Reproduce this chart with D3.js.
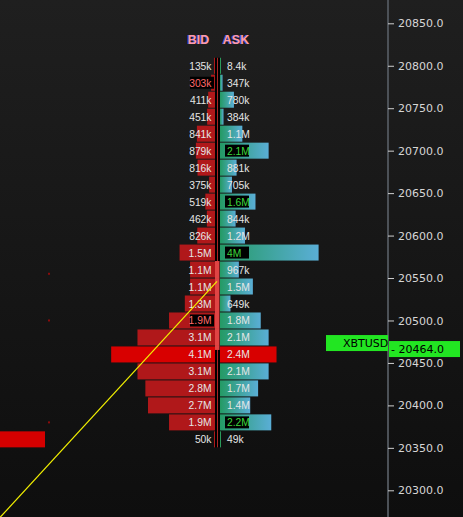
<!DOCTYPE html>
<html><head><meta charset="utf-8">
<script src="https://cdn.jsdelivr.net/npm/d3@7"></script>
<style>html,body{margin:0;padding:0;background:#141414;overflow:hidden}</style>
</head><body>
<svg id="c" width="463" height="517"></svg>
<script>
// ---- data ----
const prices = [20800,20780,20760,20740,20720,20700,20680,20660,20640,20620,20600,20580,20560,20540,20520,20500,20480,20460,20440,20420,20400,20380,20360];
const bidValues = [135e3,303e3,411e3,451e3,841e3,879e3,816e3,375e3,519e3,462e3,826e3,1.5e6,1.1e6,1.1e6,1.3e6,1.9e6,3.1e6,4.1e6,3.1e6,2.8e6,2.7e6,1.9e6,50e3];
const askValues = [8.4e3,347e3,780e3,384e3,1.1e6,2.1e6,881e3,705e3,1.6e6,844e3,1.2e6,4.0e6,967e3,1.5e6,649e3,1.8e6,2.1e6,2.4e6,2.1e6,1.7e6,1.4e6,2.2e6,49e3];
const bidLabels = ["135k","303k","411k","451k","841k","879k","816k","375k","519k","462k","826k","1.5M","1.1M","1.1M","1.3M","1.9M","3.1M","4.1M","3.1M","2.8M","2.7M","1.9M","50k"];
const askLabels = ["8.4k","347k","780k","384k","1.1M","2.1M","881k","705k","1.6M","844k","1.2M","4M","967k","1.5M","649k","1.8M","2.1M","2.4M","2.1M","1.7M","1.4M","2.2M","49k"];
const bidBoxed = [20780,20500];
const askBoxed = [20700,20640,20580,20380];
const highlightPrice = 20460;
const deltaPrices = [20560,20540,20520,20500,20480];
const tickValues = [20300,20350,20400,20450,20500,20550,20600,20650,20700,20750,20800,20850];
const lastPrice = 20464;
const symbol = "XBTUSD";
const largeOrderPrice = 20360;
const dotPrices = [20555,20500,20380];
const trendFrom = 20268, trendTo = 20546;

// ---- layout ----
const W = 463, H = 517;
const svg = d3.select("#c");
const defs = svg.append("defs");
const bg = defs.append("linearGradient").attr("id","bg").attr("x1",0).attr("y1",0).attr("x2",0).attr("y2",1);
bg.append("stop").attr("offset","0%").attr("stop-color","#1f1f1f");
bg.append("stop").attr("offset","100%").attr("stop-color","#0e0e0e");
const ag = defs.append("linearGradient").attr("id","ask").attr("x1",0).attr("y1",0).attr("x2",1).attr("y2",0);
ag.append("stop").attr("offset","0%").attr("stop-color","#249a64");
ag.append("stop").attr("offset","100%").attr("stop-color","#5aaed6");

svg.append("rect").attr("width",W).attr("height",H).attr("fill","url(#bg)");

const y = d3.scaleLinear().domain([20300,20850]).range([490.3,23.3]);
const rowH = 16;
const bidEdge = 215, askEdge = 220;
const xBid = d3.scaleLinear().domain([0,1e6]).range([219,219-26.3]);
const xAsk = d3.scaleLinear().domain([0,1e6]).range([213.4,213.4+26.3]);

const rows = prices.map((p,i)=>({p,bid:bidValues[i],ask:askValues[i],bl:bidLabels[i],al:askLabels[i]}));

// left decorations
svg.append("rect").attr("x",0).attr("y",y(largeOrderPrice)-8).attr("width",45).attr("height",rowH).attr("fill","#d40000");
svg.selectAll(".dot").data(dotPrices).join("rect").attr("x",48).attr("y",d=>y(d)-1).attr("width",2).attr("height",2).attr("fill","#8a0c0c");

// center column background
const topY = y(prices[0])-8, botY = y(prices[prices.length-1])+8;
svg.append("rect").attr("x",bidEdge).attr("y",topY).attr("width",askEdge-bidEdge).attr("height",botY-topY).attr("fill","#000");

// bid bars
svg.selectAll(".bid").data(rows).join("rect")
  .attr("x",d=>Math.min(bidEdge-1, xBid(d.bid)))
  .attr("y",d=>y(d.p)-8).attr("height",rowH)
  .attr("width",d=>Math.max(1, bidEdge-xBid(d.bid)))
  .attr("fill",d=>d.p===highlightPrice?"#d80000":"#b0181a");
// ask bars
svg.selectAll(".ask").data(rows).join("rect")
  .attr("x",askEdge)
  .attr("y",d=>y(d.p)-8).attr("height",rowH)
  .attr("width",d=>Math.max(1, xAsk(d.ask)-askEdge))
  .attr("fill",d=>d.p===highlightPrice?"#d80000":(d.ask<50e3?"#2a9a5a":"url(#ask)"));

// center strip
svg.append("line").attr("x1",217.5).attr("x2",217.5).attr("y1",topY).attr("y2",botY).attr("stroke","#a82424").attr("stroke-width",1);
svg.selectAll(".delta").data(deltaPrices).join("rect")
  .attr("x",bidEdge).attr("y",d=>y(d)-8.5).attr("width",4.5).attr("height",17).attr("fill","#e04444");
svg.append("rect").attr("x",bidEdge).attr("y",y(highlightPrice)-8.5).attr("width",4.5).attr("height",4).attr("fill","#e04444");

// label boxes
svg.selectAll(".bb").data(bidBoxed).join("rect").attr("x",190).attr("y",d=>y(d)-6).attr("width",24).attr("height",12).attr("fill","#000");
svg.selectAll(".ab").data(askBoxed).join("rect").attr("x",225).attr("y",d=>y(d)-6).attr("width",24).attr("height",12).attr("fill","#000");

const font = "'Liberation Sans', Arial, sans-serif";
svg.selectAll(".bl").data(rows).join("text")
  .attr("x",211.5).attr("y",d=>y(d.p)+4).attr("text-anchor","end")
  .attr("font-family",font).attr("font-size",10.3)
  .attr("fill",d=>bidBoxed.includes(d.p)?"#ff6a6a":"#e6e6e6").text(d=>d.bl);
svg.selectAll(".al").data(rows).join("text")
  .attr("x",227).attr("y",d=>y(d.p)+4).attr("text-anchor","start")
  .attr("font-family",font).attr("font-size",10.3)
  .attr("fill",d=>askBoxed.includes(d.p)?"#3cd83c":"#e6e6e6").text(d=>d.al);

// headers
[["BID",198.5],["ASK",236]].forEach(([t,x])=>{
  svg.append("text").attr("x",x-0.8).attr("y",43.5).attr("text-anchor","middle").attr("font-family",font).attr("font-weight","bold").attr("font-size",12.5).attr("fill","#4a5cff").text(t);
  svg.append("text").attr("x",x).attr("y",43.5).attr("text-anchor","middle").attr("font-family",font).attr("font-weight","bold").attr("font-size",12.5).attr("fill","#ff9aa6").text(t);
});

// trend line
svg.append("line").attr("x1",0).attr("y1",y(trendFrom)).attr("x2",217).attr("y2",y(trendTo)).attr("stroke","#f2f000").attr("stroke-width",1.2);

// axis
svg.append("line").attr("x1",388).attr("x2",388).attr("y1",0).attr("y2",H).attr("stroke","#4c5157").attr("stroke-width",2);
const axis = d3.axisRight(y).tickValues(tickValues).tickSize(6).tickPadding(4).tickFormat(d3.format(".1f"));
const ag2 = svg.append("g").attr("transform","translate(388,0)").call(axis);
ag2.select(".domain").remove();
ag2.selectAll("line").attr("stroke","#cfcfcf");
ag2.selectAll("text").attr("fill","#d6d6d6").attr("font-family","'DejaVu Sans', sans-serif").attr("font-size",11);

// last price markers
const ly = y(lastPrice);
svg.append("rect").attr("x",326).attr("y",ly-16).attr("width",62).attr("height",16).attr("fill","#22e622");
svg.append("text").attr("x",343).attr("y",ly-4).attr("font-family","'DejaVu Sans', sans-serif").attr("font-size",11).attr("fill","#000").text(symbol);
svg.append("rect").attr("x",389).attr("y",ly-10).attr("width",71).attr("height",16).attr("fill","#22e622");
svg.append("text").attr("x",391).attr("y",ly+2).attr("font-family","'DejaVu Sans', sans-serif").attr("font-size",11).attr("fill","#000").text("- " + d3.format(".1f")(lastPrice));
</script>
</body></html>
